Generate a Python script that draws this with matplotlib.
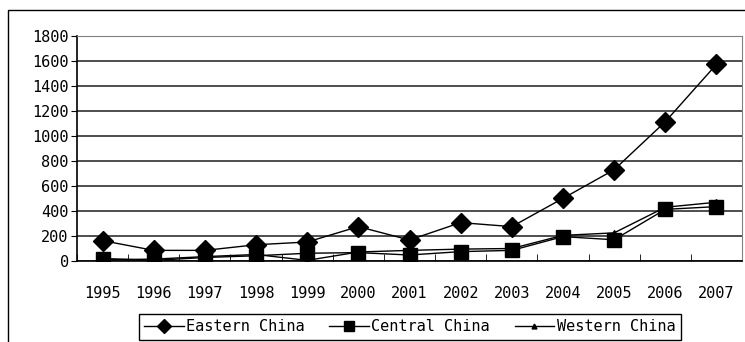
import matplotlib
matplotlib.use("Agg")
import matplotlib.pyplot as plt
from matplotlib.patches import Rectangle
import numpy as np

# ===================================
# Data
# ===================================

years = ["1995", "1996", "1997", "1998", "1999", "2000", "2001",
         "2002", "2003", "2004", "2005", "2006", "2007"]
eastern = [163, 85, 85, 130, 152, 275, 168, 307, 275, 501, 730, 1114, 1573]
central = [20, 5, 28, 42, 62, 67, 48, 75, 85, 195, 170, 413, 435]
western = [10, 15, 35, 52, 5, 72, 85, 95, 100, 205, 225, 430, 470]
y_ticks = [0, 200, 400, 600, 800, 1000, 1200, 1400, 1600, 1800]

# ===================================
# Plot
# ===================================

plt.rcParams['font.family'] = ['DejaVu Sans Mono', 'DejaVu Sans']
plt.rcParams['font.size'] = 11

fig = plt.figure(figsize=(7.45, 3.42), dpi=100)
ax = fig.add_axes([77 / 745, 1 - 261 / 342, (742 - 77) / 745, (261 - 36) / 342])

x = np.arange(len(years))
ax.plot(x, eastern, color='black', lw=1, marker='D', markersize=10, label='Eastern China')
ax.plot(x, central, color='black', lw=1, marker='s', markersize=10, label='Central China')
ax.plot(x, western, color='black', lw=1, marker='^', markersize=5, label='Western China')

ax.set_xlim(-0.5, len(years) - 0.5)
ax.set_ylim(0, 1800)
ax.set_yticks(y_ticks)
ax.yaxis.grid(True, color='#404040', lw=1.3)
ax.set_axisbelow(True)

ax.set_xticks(x)
ax.set_xticklabels(years)
ax.set_xticks(np.arange(len(years) + 1) - 0.5, minor=True)
ax.tick_params(axis='x', which='major', length=0, pad=18)
ax.tick_params(axis='x', which='minor', direction='in', length=5, color='black')
ax.tick_params(axis='y', length=4, pad=2, color='black')

for side in ['top', 'right']:
    ax.spines[side].set_color('#808080')
for side in ['left', 'bottom']:
    ax.spines[side].set_color('black')
    ax.spines[side].set_linewidth(1.2)

# Outer chart frame
frame = Rectangle((8 / 745, -0.2), 1.2, 1.2 - 10 / 342, transform=fig.transFigure,
                  fill=False, edgecolor='black', lw=1, clip_on=False)
fig.patches.append(frame)

leg = fig.legend(loc='upper left', bbox_to_anchor=(139 / 745, 1 - 314 / 342), ncol=3,
                 frameon=True, fancybox=False, edgecolor='black', framealpha=1,
                 markerscale=0.7, handlelength=2.6, handletextpad=0.15,
                 columnspacing=1.6, borderpad=0.35, borderaxespad=0)
leg.get_frame().set_linewidth(1)

plt.savefig('out.png', dpi=100)
